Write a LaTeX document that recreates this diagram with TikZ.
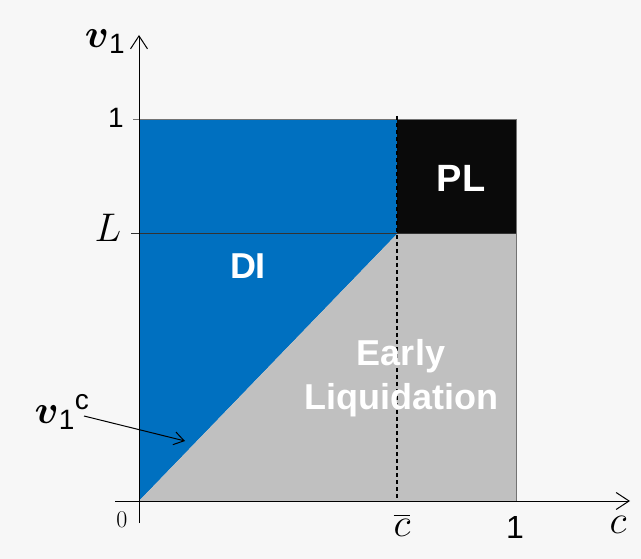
\RequirePackage{fix-cm}
\documentclass[tikz,border=0pt]{standalone}
\usepackage{fontspec}
\usepackage{amsmath}
\setsansfont{Liberation Sans}
\usetikzlibrary{arrows.meta}
\definecolor{diblue}{RGB}{0,112,192}
\definecolor{elgray}{RGB}{192,192,192}
\definecolor{plblack}{RGB}{10,10,10}
\definecolor{bgcol}{RGB}{247,247,247}

\begin{document}
\begin{tikzpicture}[x=1pt,y=-1pt]
	 \tikzstyle{region label}=[text=white,inner sep=0pt,align=center,font=\fontsize{36}{44}\sffamily\bfseries]
	 \tikzstyle{tick label}=[inner sep=0pt,font=\fontsize{28}{30}\sffamily]
	 \tikzstyle{math label}=[inner sep=0pt,font=\fontsize{40}{42}\selectfont]
	 \tikzstyle{axis}=[draw,line width=1pt,-{Straight Barb[length=13pt,width=17pt]}]
	 \tikzstyle{border}=[draw,line width=1pt,black!55]

	 \useasboundingbox[fill=bgcol] (0,0) rectangle (641,559);

	 \coordinate (o) at (139,501);
	 \coordinate (cbar) at (397,501);
	 \coordinate (cone) at (516,501);
	 \coordinate (lcut) at (397,234);
	 \coordinate (ltop) at (397,120);
	 \coordinate (rtop) at (516,120);
	 \coordinate (rl) at (516,234);
	 \coordinate (otop) at (139,120);

	 % regions
	 \fill[diblue] (o) -- (lcut) -- (ltop) -- (otop) -- cycle;
	 \fill[elgray] (o) -- (lcut) -- (rl) -- (cone) -- cycle;
	 \fill[plblack] (ltop) rectangle (rl);

	 \draw[border] (133,120) -- (rtop) -- (cone);
	 \draw[line width=1pt,black!80] (131,234) -- (rl);
	 \draw[line width=1.3pt,dash pattern=on 4pt off 3pt] (397,116) -- (cbar);

	 % axes
	 \coordinate (xs) at (115,501);
	 \coordinate (xe) at (630,501);
	 \coordinate (ys) at (139,523);
	 \coordinate (ye) at (139,35);
	 \draw[axis] (xs) -- (xe);
	 \draw[axis] (ys) -- (ye);

	 \node[tick label] (y1) at (116,118) {1};
	 \node[math label] (yl) at (108,228) {$L$};
	 \node[inner sep=0pt,font=\fontsize{24}{26}\selectfont] (zero) at (122,520) {0};
	 \node[math label] (yv) at (105,42) {$\boldsymbol{v}_{\textsf{1}}$};
	 \node[math label] (xcb) at (402,525) {$\overline{c}$};
	 \node[tick label,font=\fontsize{32}{34}\sffamily] (x1) at (515,527) {1};
	 \node[math label] (xc) at (618,525) {$c$};

	 \node[region label,font=\fontsize{38}{40}\sffamily\bfseries] (pl) at (461,178) {PL};
	 \node[region label] (di) at (248,266) {DI};
	 \node[region label] (el) at (401,378) {Early\\Liquidation};

	 \node[math label] (vc) at (62,412) {$\boldsymbol{v}_{\textsf{1}}{}^{\textsf{c}}$};
	 \coordinate (vctip) at (185,441);
	 \draw[line width=1pt,-{Straight Barb[length=10pt,width=13pt]}] (84,416) -- (vctip);
 \end{tikzpicture}
\end{document}
